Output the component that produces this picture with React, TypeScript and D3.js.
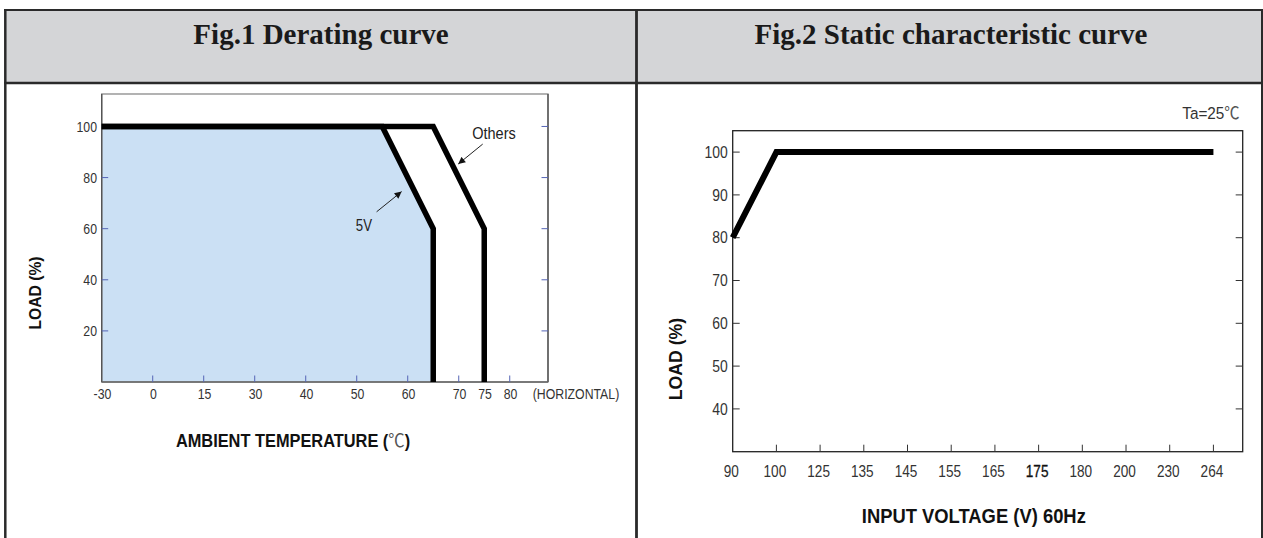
import React from "react";
import * as d3 from "d3";

// ---------- Data: Fig.1 Derating curve ----------
const tempBreaks = [-30, 0, 15, 30, 40, 50, 60, 70, 80];
const tempTicks = [-30, 0, 15, 30, 40, 50, 60, 70, 75, 80];
const loadTicks1 = [20, 40, 60, 80, 100];
const temp5V = [-30, 55, 65, 65];
const load5V = [100, 100, 60, 0];
const tempOthers = [-30, 65, 75, 75];
const loadOthers = [100, 100, 60, 0];
const annotations = [
  { label: "Others", lx: 76.9, ly: 95, from: [74.7, 93.1], to: [69.9, 85.3] },
  { label: "5V", lx: 51.4, ly: 58.9, from: [53.9, 66.6], to: [58.8, 74.5] },
];

// ---------- Data: Fig.2 Static characteristic curve ----------
const voltLabels = ["90", "100", "125", "135", "145", "155", "165", "175", "180", "200", "230", "264"];
const loadTicks2 = [40, 50, 60, 70, 80, 90, 100];
const lineVolts = ["90", "100", "264"];
const lineLoads = [80, 100, 100];

const W = 1263;
const H = 538;

const SANS = "'Liberation Sans', Arial, sans-serif";
const SERIF = "'Liberation Serif', 'Times New Roman', serif";
const CJK = "'Noto Sans CJK SC', 'DejaVu Sans', sans-serif";

function CText(props: any) {
  const { x, y, sx = 1, rotate = 0, anchor = "middle", size, weight = "normal", fill = "#333", family = SANS, dy, children, stroke, strokeWidth } = props;
  return (
    <text
      transform={`translate(${x},${y}) rotate(${rotate}) scale(${sx},1)`}
      textAnchor={anchor}
      fontSize={size}
      fontWeight={weight}
      fill={fill}
      fontFamily={family}
      dy={dy}
      stroke={stroke}
      strokeWidth={strokeWidth}
    >
      {children}
    </text>
  );
}

export default function App() {
  // Panel 1 geometry
  const P1 = { left: 101.7, top: 94, right: 548, bottom: 382 };
  const step1 = (P1.right - P1.left) / 8.75;
  const x1 = d3.scaleLinear().domain(tempBreaks).range(tempBreaks.map((_, i) => P1.left + i * step1));
  const y1 = d3.scaleLinear().domain([0, 112.7]).range([P1.bottom, P1.top]);

  const mk = (ts: number[], ls: number[]) =>
    d3
      .line<number>()
      .x((t) => x1(t))
      .y((_, i) => y1(ls[i]))(ts) as string;
  const path5V = mk(temp5V, load5V);
  const pathOthers = mk(tempOthers, loadOthers);
  const area5V = d3
    .area<number>()
    .x((t) => x1(t))
    .y0(y1(0))
    .y1((_, i) => y1(load5V[i]))(temp5V) as string;

  // Panel 2 geometry
  const P2 = { left: 732.7, top: 130.7, right: 1242.7, bottom: 451.7 };
  const step2 = (P2.right - P2.left) / 11.67;
  const x2 = d3.scalePoint<string>().domain(voltLabels).range([P2.left, P2.left + 11 * step2]);
  const y2 = d3.scaleLinear().domain([30, 105]).range([P2.bottom, P2.top]);
  const path2 = d3
    .line<string>()
    .x((v) => x2(v) as number)
    .y((_, i) => y2(lineLoads[i]))(lineVolts) as string;

  const blueTick = "#5565b5";
  const border = "#2a2a2a";

  return (
    <svg width={W} height={H} style={{ position: "absolute", left: 0, top: 0, display: "block" }}>
      <defs>
        <marker id="arr" viewBox="0 0 10 10" refX="10" refY="5" markerWidth="9" markerHeight="7" markerUnits="userSpaceOnUse" orient="auto">
          <path d="M0,0 L10,5 L0,10 z" fill="#111" />
        </marker>
      </defs>
      <rect x={0} y={0} width={W} height={H} fill="#fff" />

      {/* Header */}
      <rect x={5.3} y={10} width={W - 5.3} height={73} fill="#d4d5d7" />
      <line x1={4} x2={W} y1={10} y2={10} stroke={border} strokeWidth={2.2} />
      <line x1={4} x2={W} y1={83} y2={83} stroke={border} strokeWidth={2.5} />
      <line x1={5.3} x2={5.3} y1={9} y2={H} stroke={border} strokeWidth={2.5} />
      <line x1={636.5} x2={636.5} y1={9} y2={H} stroke={border} strokeWidth={2.8} />
      <line x1={1262} x2={1262} y1={9} y2={H} stroke={border} strokeWidth={2} />
      <CText x={321} y={44} size={29} family={SERIF} weight="bold" fill="#1a1a1a">Fig.1 Derating curve</CText>
      <CText x={951} y={44} size={29} family={SERIF} weight="bold" fill="#1a1a1a">Fig.2 Static characteristic curve</CText>

      {/* ---------- Panel 1 ---------- */}
      <path d={area5V} fill="#cbe0f4" />
      <rect x={P1.left} y={P1.top} width={P1.right - P1.left} height={P1.bottom - P1.top} fill="none" stroke="#8a8a8a" strokeWidth={1.3} />
      <line x1={P1.left} x2={P1.left} y1={P1.top} y2={P1.bottom} stroke="#555" strokeWidth={1.4} />
      <line x1={P1.right} x2={P1.right} y1={P1.top} y2={P1.bottom} stroke="#555" strokeWidth={1.4} />
      <line x1={P1.left} x2={P1.right} y1={P1.bottom} y2={P1.bottom} stroke="#666" strokeWidth={1.4} />
      {loadTicks1.map((v) => (
        <g key={"y1" + v}>
          <line x1={P1.left} x2={P1.left + 6.5} y1={y1(v)} y2={y1(v)} stroke={blueTick} strokeWidth={1} />
          <line x1={P1.right - 6.5} x2={P1.right} y1={y1(v)} y2={y1(v)} stroke={blueTick} strokeWidth={1} />
          <CText x={97} y={y1(v)} dy="0.36em" anchor="end" size={15} sx={0.82}>{v}</CText>
        </g>
      ))}
      {tempTicks.map((t) => (
        <g key={"x1" + t}>
          {t !== -30 && <line x1={x1(t)} x2={x1(t)} y1={P1.bottom} y2={P1.bottom - 6.5} stroke={blueTick} strokeWidth={1} />}
          <CText x={x1(t) + 0.8} y={398.5} size={15} sx={0.82}>{t}</CText>
        </g>
      ))}
      <CText x={576} y={398.5} size={15} sx={0.82}>(HORIZONTAL)</CText>
      <path d={pathOthers} fill="none" stroke="#000" strokeWidth={5.5} strokeLinejoin="miter" />
      <path d={path5V} fill="none" stroke="#000" strokeWidth={5.5} strokeLinejoin="miter" />
      {annotations.map((a) => (
        <g key={a.label}>
          <line x1={x1(a.from[0])} y1={y1(a.from[1])} x2={x1(a.to[0])} y2={y1(a.to[1])} stroke="#222" strokeWidth={1} markerEnd="url(#arr)" />
          <CText x={x1(a.lx)} y={y1(a.ly)} size={16.5} sx={a.label === "5V" ? 0.8 : 0.88} fill="#222">{a.label}</CText>
        </g>
      ))}
      <CText x={35} y={293} rotate={-90} dy="0.36em" size={16.5} sx={0.95} weight="bold" fill="#111">LOAD (%)</CText>
      <text transform={`translate(293,446.5) scale(0.9,1)`} textAnchor="middle" fontFamily={SANS} fontSize={18.2} fontWeight="bold" fill="#111">
        AMBIENT TEMPERATURE (
        <tspan fontFamily={CJK} fontWeight="normal" fill="#555">℃</tspan>)
      </text>

      {/* ---------- Panel 2 ---------- */}
      <rect x={P2.left} y={P2.top} width={P2.right - P2.left} height={P2.bottom - P2.top} fill="none" stroke="#222" strokeWidth={1.3} />
      {loadTicks2.map((v) => (
        <g key={"y2" + v}>
          <line x1={P2.left} x2={P2.left + 7} y1={y2(v)} y2={y2(v)} stroke="#333" strokeWidth={1} />
          <line x1={P2.right - 7} x2={P2.right} y1={y2(v)} y2={y2(v)} stroke="#333" strokeWidth={1} />
          <CText x={P2.left - 5} y={y2(v)} dy="0.36em" anchor="end" size={16} sx={0.87}>{v}</CText>
        </g>
      ))}
      {voltLabels.map((v) => (
        <g key={"x2" + v}>
          {v !== "90" && <line x1={x2(v)} x2={x2(v)} y1={P2.bottom} y2={P2.bottom - 7} stroke="#333" strokeWidth={1} />}
          <CText
            x={(x2(v) as number) - 1.5}
            y={477}
            size={16}
            sx={0.85}
            fill={v === "175" ? "#111" : "#333"}
            stroke={v === "175" ? "#111" : undefined}
            strokeWidth={v === "175" ? 0.3 : undefined}
          >
            {v}
          </CText>
        </g>
      ))}
      <path d={path2} fill="none" stroke="#000" strokeWidth={6} strokeLinejoin="miter" />
      <text transform="translate(1182.3,118.5) scale(0.9,1)" fontFamily={SANS} fontSize={17} fill="#333">
        Ta=25<tspan fontFamily={CJK} fill="#555">℃</tspan>
      </text>
      <CText x={675} y={359} rotate={-90} dy="0.36em" size={19} sx={0.93} weight="bold" fill="#111">LOAD (%)</CText>
      <CText x={973.8} y={523} size={20} sx={0.92} weight="bold" fill="#111">INPUT VOLTAGE (V) 60Hz</CText>
    </svg>
  );
}
